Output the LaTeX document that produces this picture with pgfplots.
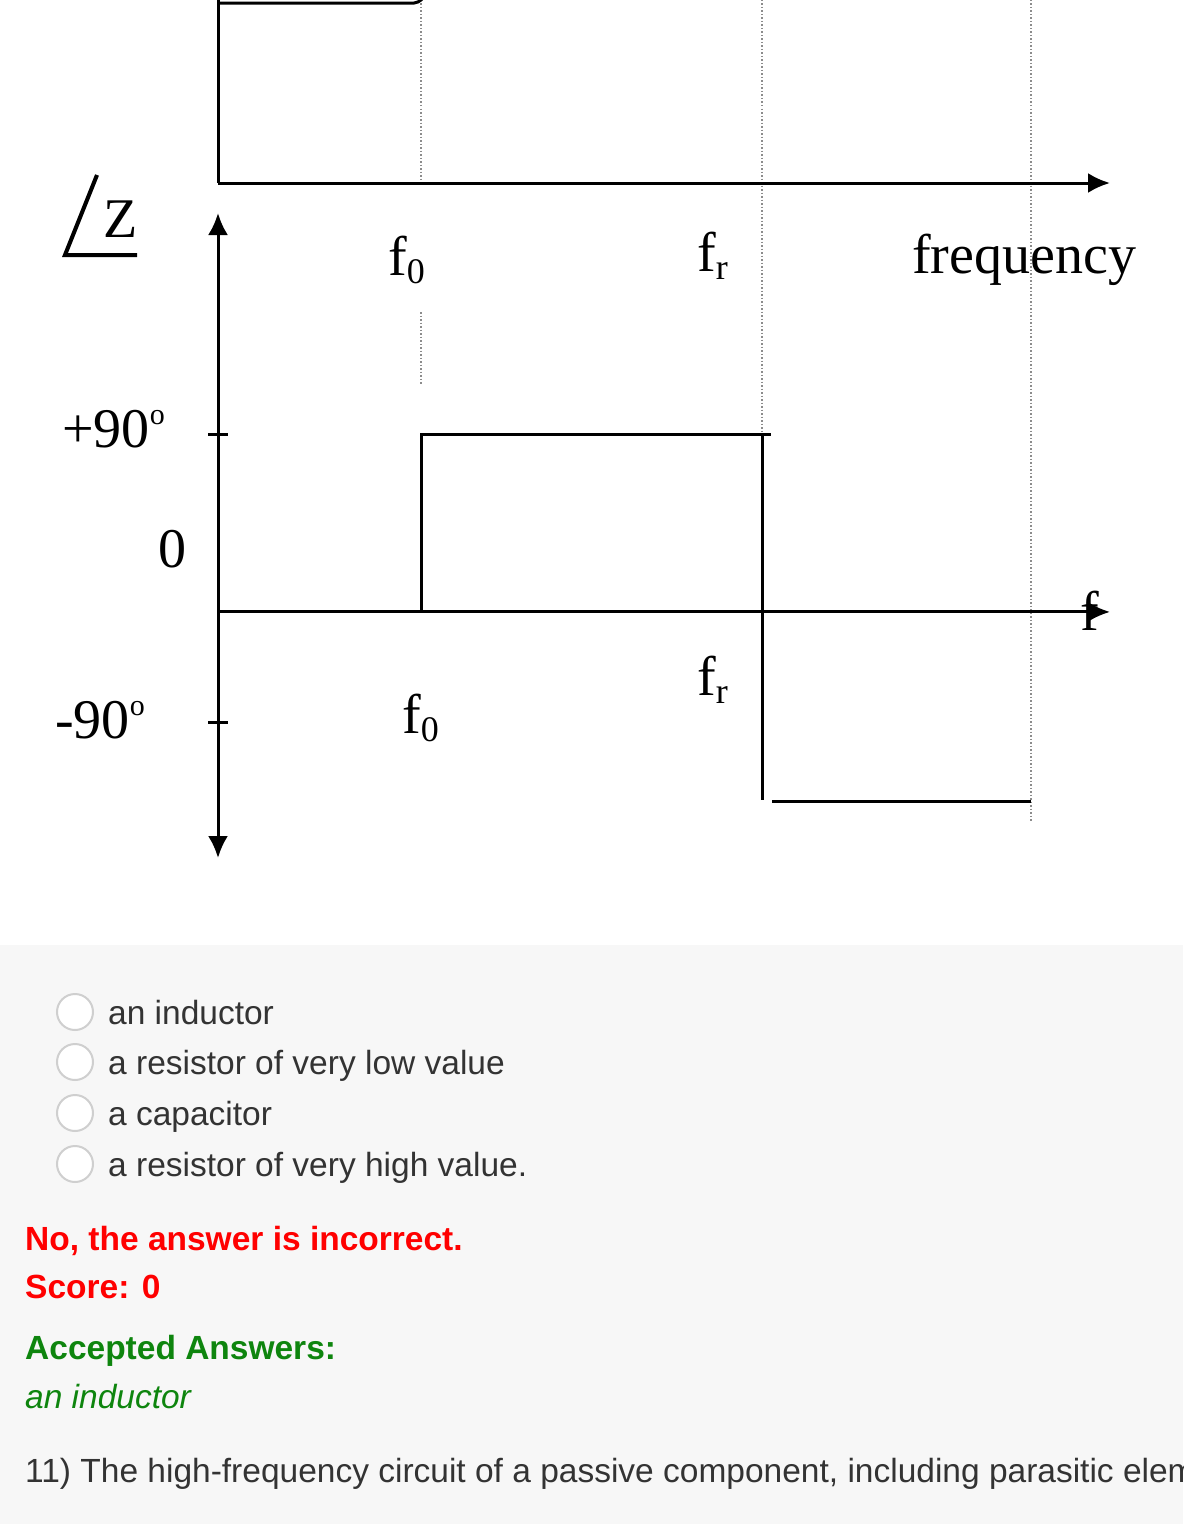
\documentclass[border=0pt]{standalone}
\usepackage{pgfplots}
\pgfplotsset{compat=1.18}
\usepackage{fontspec}
\setmainfont{Liberation Serif}
\setsansfont{Liberation Sans}
\usetikzlibrary{arrows.meta}

\definecolor{panel}{HTML}{F7F7F7}
\definecolor{ink}{HTML}{333333}
\definecolor{wrong}{HTML}{FF0000}
\definecolor{right}{HTML}{0E850E}
\definecolor{radio}{HTML}{CFCFCF}
\definecolor{guide}{HTML}{8C8C8C}

\newcommand\serif{\fontsize{56bp}{60bp}\selectfont\rmfamily}
\newcommand\sans{\fontsize{33.5bp}{40bp}\selectfont\sffamily}
\newcommand\sub[1]{\raisebox{-0.15em}{\fontsize{36bp}{36bp}\selectfont #1}}
\newcommand\dg{\raisebox{0.4em}{\fontsize{30bp}{30bp}\selectfont o}}

\newcommand\tip{Latex[length=22bp,width=20bp]}

\begin{document}
\begin{tikzpicture}[x=1bp,y=1bp]
\path[use as bounding box] (0,0) rectangle (1183,-1524);
\clip (0,0) rectangle (1183,-1524);
\fill[white] (0,0) rectangle (1183,-945);
\fill[panel] (0,-945) rectangle (1183,-1524);

% dotted guides at f0, fr and the upper band edge
\begin{scope}[guide, line width=1.3bp, dash pattern=on 1.5bp off 2bp]
  \draw (421,0) -- (421,-183);
  \draw (421,-312) -- (421,-385);
  \draw (762,0) -- (762,-800);
  \draw (1031,0) -- (1031,-822);
\end{scope}

% |Z| versus frequency (upper plot, cut at the top)
\begin{axis}[
  at={(218bp,-183bp)}, anchor=south west,
  width=892bp, height=183bp, scale only axis,
  xmin=0, xmax=4.394, ymin=0, ymax=1.017,
  axis x line=bottom, axis y line=left,
  x axis line style={line width=3bp, -{\tip}},
  y axis line style={line width=3bp, -},
  xtick=\empty, ytick=\empty,
]
\addplot[line width=3bp, black, line join=round] coordinates {
  (0,1) (0.965,1) (0.985,1.006) (1.0,1.017) (1.012,1.03)
};
\end{axis}

% phase of Z versus frequency
\begin{axis}[
  at={(218bp,-858bp)}, anchor=south west,
  width=892bp, height=645bp, scale only axis,
  xmin=0, xmax=4.394, ymin=-125.1, ymax=202.8,
  axis lines=middle,
  x axis line style={line width=3bp, -{\tip}},
  y axis line style={line width=3bp, {\tip}-{\tip}},
  xtick=\empty, ytick={90,-56}, yticklabels={,,},
  tick align=center, major tick length=20bp,
  tick style={line width=3bp, black},
  clip=false,
]
\addplot[line width=3bp, black] coordinates {(0,0) (1.0,0) (1.0,90) (2.724,90)};
\addplot[line width=3bp, black] coordinates {(2.68,90) (2.68,-95.6)};
\addplot[line width=3bp, black] coordinates {(2.729,-96.6) (4.005,-96.6)};
\end{axis}

% labels of the diagrams
\node[anchor=base west, inner sep=0] at (388,-275) {\serif f\sub{0}};
\node[anchor=base west, inner sep=0] at (697,-271) {\serif f\sub{r}};
\node[anchor=base west, inner sep=0] at (912,-273) {\serif frequency};
\draw[line width=4bp, line join=miter] (97,-175) -- (65,-255) -- (137,-255);
\node[anchor=base west, inner sep=0] at (103,-237) {\serif Z};
\node[anchor=base east, inner sep=0] at (165,-447) {\serif +90\dg};
\node[anchor=base west, inner sep=0] at (158,-567) {\serif 0};
\node[anchor=base west, inner sep=0] at (55,-738) {\serif -90\dg};
\node[anchor=base west, inner sep=0] at (402,-733) {\serif f\sub{0}};
\node[anchor=base west, inner sep=0] at (697,-695) {\serif f\sub{r}};
\node[anchor=base west, inner sep=0] at (1080,-630) {\serif f};

% answer options
\foreach \y/\t in {1012/an inductor, 1062/a resistor of very low value,
                   1113/a capacitor, 1164/a resistor of very high value.} {
  \draw[radio, line width=2bp, fill=white] (75,-\y) circle (18);
  \node[anchor=base west, inner sep=0, text=ink] at (108,-\y-12) {\sans \t};
}

% feedback
\node[anchor=base west, inner sep=0, text=wrong] at (25,-1250) {\sans\bfseries No, the answer is incorrect.};
\node[anchor=base west, inner sep=0, text=wrong] at (25,-1298) {\sans\bfseries Score: 0};
\node[anchor=base west, inner sep=0, text=right] at (25,-1359) {\sans\bfseries Accepted Answers:};
\node[anchor=base west, inner sep=0, text=right] at (25,-1408) {\sans\itshape an inductor};
\node[anchor=base west, inner sep=0, text=ink] at (25,-1482) {\sans 11) The high-frequency circuit of a passive component, including parasitic elements};
\end{tikzpicture}
\end{document}
